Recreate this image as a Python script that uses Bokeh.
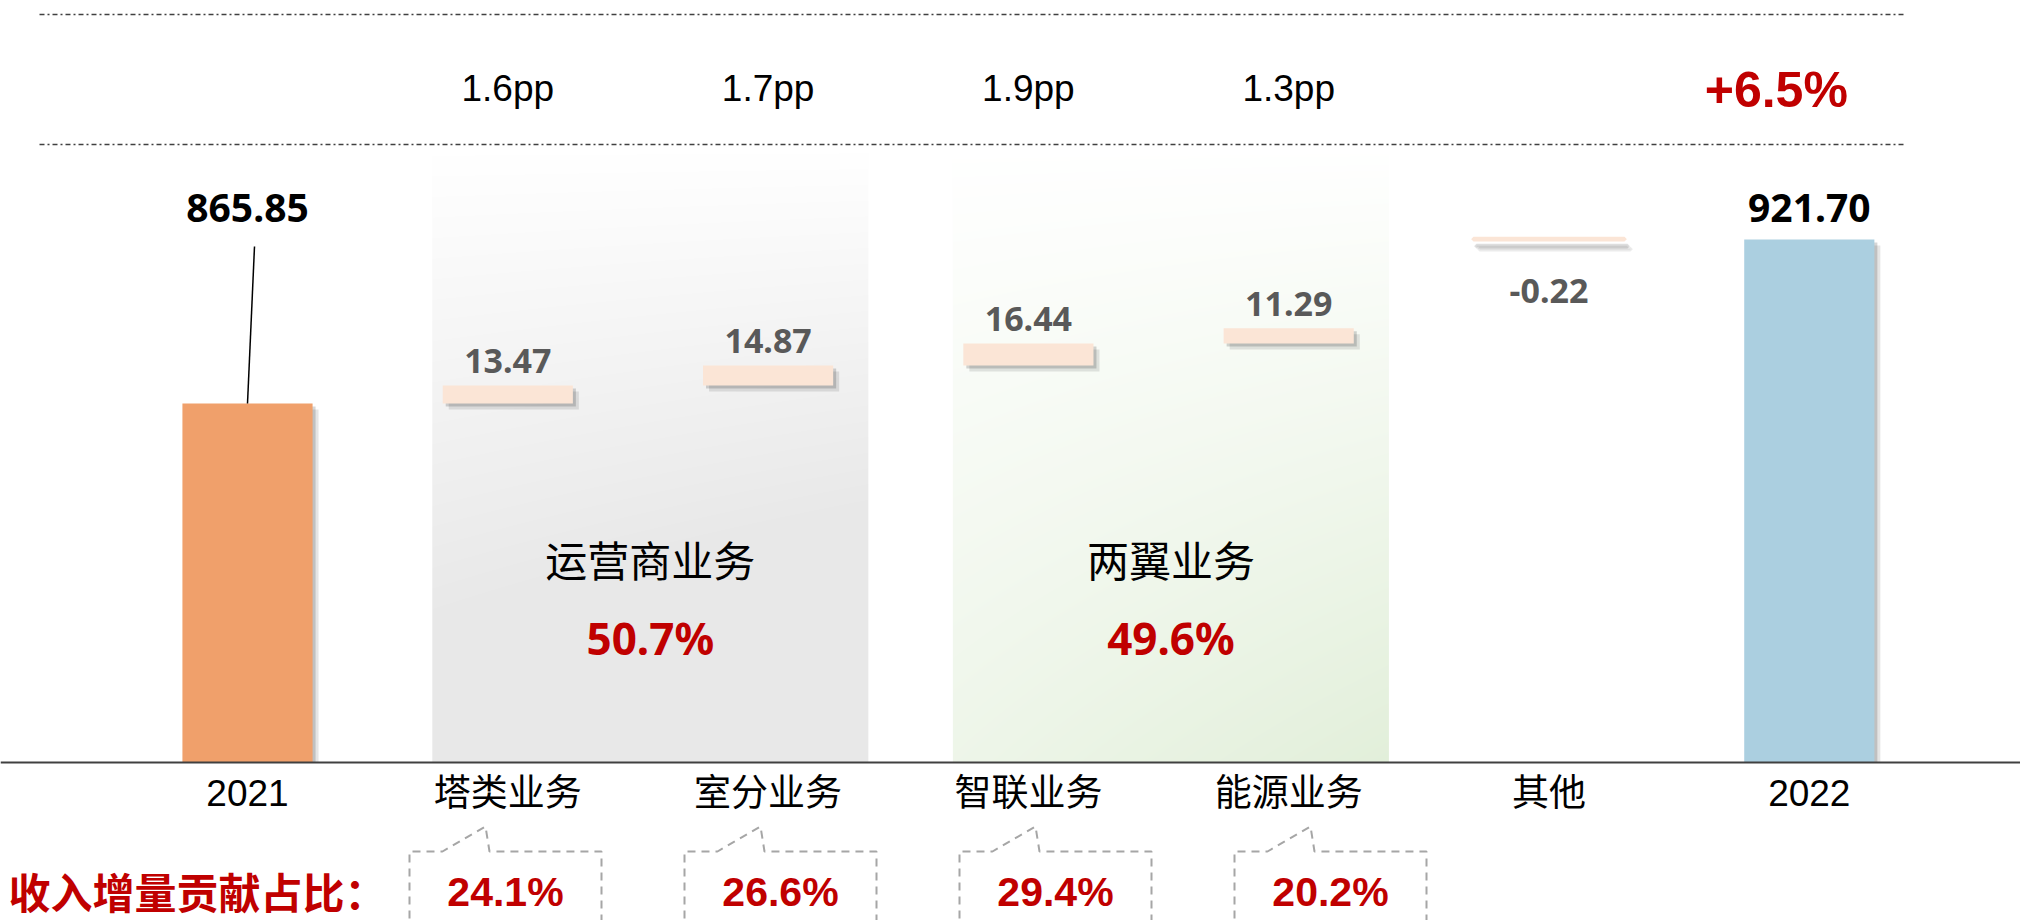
import numpy as np
from bokeh.plotting import figure
from bokeh.models import Range1d, FixedTicker
from bokeh.core.properties import value
from bokeh.embed import file_html
from bokeh.resources import INLINE

# ---------------- data ----------------
categories = ["2021", "塔类业务", "室分业务", "智联业务", "能源业务", "其他", "2022"]
totals = [865.85, 921.70]
increments = [13.47, 14.87, 16.44, 11.29, -0.22]
pp_labels = ["1.6pp", "1.7pp", "1.9pp", "1.3pp"]
growth_label = "+6.5%"
contrib_title = "收入增量贡献占比："
contrib_labels = ["24.1%", "26.6%", "29.4%", "20.2%"]
group_names = ["运营商业务", "两翼业务"]
group_shares = ["50.7%", "49.6%"]
group_members = [(1, 2), (3, 4)]

# ---------------- layout constants (pixels of the figure) ----------------
W, H = 2020, 920
AXIS_PX = 762          # baseline
TOP_FIRST_PX = 403     # top of first total bar
TOP_LAST_PX = 239      # top of last total bar
X0_PX = 247.0          # centre of first category
STEP_PX = 260.3        # category spacing
K_INC = 1.34           # px per unit for the increments
DX = 1.0 / STEP_PX
BL = 0.33              # correction for the alphabetic baseline (fraction of font size)

k_tot = (TOP_FIRST_PX - TOP_LAST_PX) / (totals[1] - totals[0])
base = totals[0] - (AXIS_PX - TOP_FIRST_PX) / k_tot

def PY(fy):
    return H - fy

def fs(n):
    return value(f"{n}px")

x_range = Range1d(-X0_PX / STEP_PX, (W - X0_PX) / STEP_PX)
y_range = Range1d(base - (H - AXIS_PX) / k_tot, base + AXIS_PX / k_tot)
inc_range = Range1d(totals[0] - (H - TOP_FIRST_PX) / K_INC, totals[0] + TOP_FIRST_PX / K_INC)

p = figure(width=W, height=H, x_range=x_range, y_range=y_range,
           output_backend="svg", toolbar_location=None, min_border=0,
           y_axis_location=None, x_axis_location="below",
           background_fill_color="white", border_fill_color="white",
           outline_line_color=None)
p.extra_y_ranges = {"inc": inc_range, "px": Range1d(0, H)}
p.extra_x_ranges = {"px": Range1d(0, W)}
p.grid.visible = False

xi = np.arange(len(categories))

# ---------------- group panels with gradient ----------------
PANEL_L, PANEL_R = 0.29, 0.385
PANEL_TOP = 145
panel_specs = [((232, 232, 232), "grey"), ((226, 239, 218), "green")]
for (a, b), (endc, kind) in zip(group_members, panel_specs):
    left = a - PANEL_L
    right = b + PANEL_R
    nr = AXIS_PX - PANEL_TOP
    nc = int(round((right - left) * STEP_PX))
    rows = np.arange(nr)[:, None]
    cols = np.arange(nc)[None, :]
    v = (nr - 1 - rows) / (nr - 1)     # 0 top, 1 bottom
    u = cols / (nc - 1)
    if kind == "grey":
        t = np.clip(v * (1.3 + 0.4 * u), 0, 1)
    else:
        t = np.clip(v * (0.6 + 0.4 * u), 0, 1)
    img = np.empty((nr, nc), dtype=np.uint32)
    view = img.view(dtype=np.uint8).reshape((nr, nc, 4))
    for ch in range(3):
        view[:, :, ch] = np.round(255 - (255 - endc[ch]) * t).astype(np.uint8)
    view[:, :, 3] = 255
    p.image_rgba(image=[img], x=left, y=PY(AXIS_PX), dw=right - left, dh=nr,
                 y_range_name="px")

# ---------------- dashed guide lines ----------------
p.segment(x0=[39, 39], x1=[1904, 1904], y0=[PY(14), PY(144)], y1=[PY(14), PY(144)],
          x_range_name="px", y_range_name="px",
          line_color="#404040", line_width=1.6, line_dash="5 3 2 3")

# ---------------- waterfall computations ----------------
inc = np.array(increments)
after = totals[0] + np.cumsum(inc)
before = after - inc
step_idx = xi[1:5]
step_bottom = np.minimum(before[:4], after[:4])
step_top = np.maximum(before[:4], after[:4])
oth_bottom = min(before[4], after[4])
oth_top = max(before[4], after[4])

# shadows
for off, alpha in [(3, 0.16), (6, 0.10)]:
    p.vbar(x=xi[[0, 6]] + off * DX, top=np.array(totals) - off / k_tot, bottom=base,
           width=0.5, fill_color="#000000", fill_alpha=alpha, line_color=None)
    p.vbar(x=step_idx + off * DX, top=step_top - off / K_INC, bottom=step_bottom - off / K_INC,
           width=0.5, fill_color="#000000", fill_alpha=alpha, line_color=None,
           y_range_name="inc")
    p.vbar(x=[xi[5] + off * DX], top=[oth_top - (off + 4) / k_tot], bottom=[oth_bottom - (off + 4) / k_tot],
           width=0.58, fill_color="#000000", fill_alpha=alpha * 0.8,
           line_color="#000000", line_alpha=alpha * 0.8, line_width=4)

# bars
p.vbar(x=xi[[0, 6]], top=totals, bottom=base, width=0.5,
       fill_color=["#F0A06B", "#ABCFE0"], line_color=None)
p.vbar(x=step_idx, top=step_top, bottom=step_bottom, width=0.5,
       fill_color="#FBE5D6", line_color=None, y_range_name="inc")
p.vbar(x=[xi[5]], top=[oth_top], bottom=[oth_bottom], width=0.58,
       fill_color="#FBE5D6", line_color="#FBE5D6", line_width=4)

# leader line for first total
p.segment(x0=[xi[0]], y0=[totals[0]], x1=[xi[0] + 7 * DX], y1=[totals[1] - 7 / k_tot],
          line_color="#000000", line_width=1.5)

# ---------------- value labels ----------------
NUM_FONT = value("Noto Sans")
p.text(x=xi[[0, 6]], y=[max(totals)] * 2, text=[f"{t:.2f}" for t in totals],
       text_font=NUM_FONT, text_font_style="bold", text_font_size=fs(39),
       text_color="#000000", text_align="center", text_baseline="alphabetic",
       y_offset=-19 - BL * 39)
p.text(x=step_idx, y=step_top, text=[f"{v:.2f}" for v in increments[:4]],
       text_font=NUM_FONT, text_font_style="bold", text_font_size=fs(34),
       text_color="#595959", text_align="center", text_baseline="alphabetic",
       y_offset=-13 - BL * 34, y_range_name="inc")
p.text(x=[xi[5]], y=[oth_bottom], text=[f"{increments[4]:.2f}"],
       text_font=NUM_FONT, text_font_style="bold", text_font_size=fs(34),
       text_color="#595959", text_align="center", text_baseline="alphabetic",
       y_offset=63 - BL * 34)

# pp labels and growth
p.text(x=step_idx, y=[PY(100 - BL * 37)] * 4, text=pp_labels, y_range_name="px",
       text_font=value("Liberation Sans"), text_font_size=fs(37),
       text_color="#000000", text_align="center", text_baseline="alphabetic")
p.text(x=[xi[6]], y=[PY(106 - BL * 50)], text=[growth_label], y_range_name="px", x_offset=-33,
       text_font=value("Liberation Sans"), text_font_style="bold",
       text_font_size=fs(50), text_color="#C00000", text_align="center",
       text_baseline="alphabetic")

# group labels
gcx = [((a - PANEL_L) + (b + PANEL_R)) / 2 for a, b in group_members]
p.text(x=gcx, y=[PY(558)] * 2, text=group_names, y_range_name="px",
       text_font=value("Noto Sans CJK SC"), text_font_size=fs(42),
       text_color="#000000", text_align="center", text_baseline="middle")
p.text(x=gcx, y=[PY(652 - BL * 44)] * 2, text=group_shares, y_range_name="px",
       text_font=NUM_FONT, text_font_style="bold", text_font_size=fs(44),
       text_color="#C00000", text_align="center", text_baseline="alphabetic")

# ---------------- contribution callouts ----------------
BOX_X0, BOX_STEP = 505, 275
BOX_HALF = 96
BOX_TOP = 851
bcx = [BOX_X0 + BOX_STEP * k for k in range(len(contrib_labels))]
xs, ys = [], []
for c in bcx:
    l, r = c - BOX_HALF, c + BOX_HALF
    xs.append([l, l, l + 33, l + 76, l + 80, r, r])
    ys.append([PY(960), PY(BOX_TOP), PY(BOX_TOP), PY(BOX_TOP - 25), PY(BOX_TOP), PY(BOX_TOP), PY(960)])
p.multi_line(xs=xs, ys=ys, x_range_name="px", y_range_name="px", line_color="#A6A6A6",
             line_width=2, line_dash="8 6")
p.text(x=bcx, y=[PY(905 - BL * 41)] * 4, text=contrib_labels, x_range_name="px", y_range_name="px",
       text_font=value("Liberation Sans"), text_font_style="bold", text_font_size=fs(41),
       text_color="#C00000", text_align="center", text_baseline="alphabetic")
p.text(x=[8], y=[PY(890)], text=[contrib_title], x_range_name="px", y_range_name="px",
       text_font=value("Noto Sans CJK SC"), text_font_style="bold", text_font_size=fs(42),
       text_color="#C00000", text_align="left", text_baseline="middle")

# ---------------- category axis ----------------
ax = p.xaxis[0]
ax.fixed_location = base
ax.ticker = FixedTicker(ticks=list(range(len(categories))))
ax.major_label_overrides = {i: c for i, c in enumerate(categories)}
ax.major_label_text_font = "'Liberation Sans', 'Noto Sans CJK SC'"
ax.major_label_text_font_size = "37px"
ax.major_label_text_color = "#000000"
ax.major_label_standoff = 10
ax.major_tick_in = 0
ax.major_tick_out = 0
ax.minor_tick_line_color = None
ax.axis_line_color = "#404040"
ax.axis_line_width = 2

open("out.html", "w").write(file_html(p, INLINE))
